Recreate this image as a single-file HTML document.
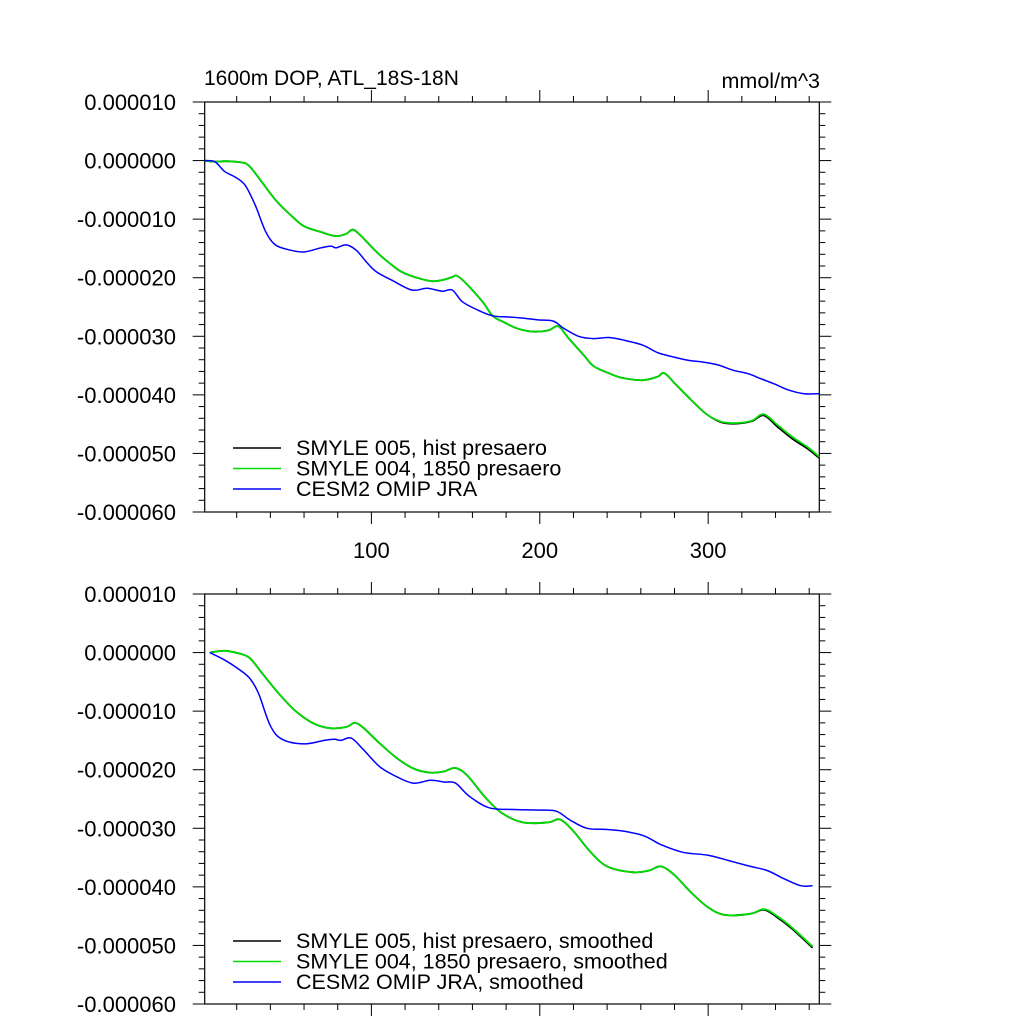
<!DOCTYPE html>
<html><head><meta charset="utf-8">
<style>
body{margin:0;background:#fff;}
svg text{font-family:"Liberation Sans",sans-serif;fill:#000;}
</style></head>
<body>
<svg id="chart" width="1024" height="1024" viewBox="0 0 1024 1024" xmlns="http://www.w3.org/2000/svg">
<rect width="1024" height="1024" fill="#fff"/>
<text x="204" y="85" font-size="21">1600m DOP, ATL_18S-18N</text>
<text x="820" y="88" font-size="21.5" text-anchor="end">mmol/m^3</text>
</svg>
<script>
// values in units of 1e-6 mmol/m^3
const topDays = [1,7,13,22,27,34,43,52,60,70,79,85,89,94,103,112,118,127,136,142,148,151,157,166,172,178,187,196,205,211,217,226,232,241,249,261,270,274,281,290,299,308,317,326,333,341,350,359,366];
const topGreen = [0,-0.2,-0.1,-0.3,-0.8,-3.3,-6.7,-9.3,-11.2,-12.2,-12.9,-12.5,-11.8,-12.9,-15.6,-17.8,-19,-20,-20.6,-20.4,-19.9,-19.7,-21.2,-24.1,-26.5,-27.5,-28.7,-29.2,-29,-28.3,-30.3,-33.2,-35.1,-36.3,-37.1,-37.5,-36.9,-36.3,-38.3,-40.9,-43.3,-44.6,-44.8,-44.4,-43.3,-45.1,-47.2,-48.9,-50.6];
const topBlack = [0,-0.2,-0.1,-0.3,-0.8,-3.3,-6.7,-9.3,-11.2,-12.2,-12.9,-12.5,-11.8,-12.9,-15.6,-17.8,-19,-20,-20.6,-20.4,-19.9,-19.7,-21.2,-24.1,-26.5,-27.5,-28.7,-29.2,-29,-28.3,-30.3,-33.2,-35.1,-36.3,-37.1,-37.5,-36.9,-36.3,-38.3,-40.9,-43.3,-44.7,-44.9,-44.5,-43.5,-45.4,-47.5,-49.2,-50.8];
const topBlueDays = [1,7,13,19,25,31,37,43,52,60,70,76,79,85,91,97,103,112,124,133,142,148,154,163,172,181,190,199,208,214,223,232,241,249,261,270,279,288,297,306,315,324,330,339,348,357,366];
const topBlue = [0,-0.2,-1.9,-2.8,-4.2,-7.6,-12,-14.4,-15.3,-15.6,-14.9,-14.6,-14.9,-14.4,-15.3,-17.3,-19,-20.4,-22.1,-21.8,-22.3,-22.1,-24.1,-25.5,-26.5,-26.7,-26.9,-27.2,-27.4,-28.6,-30,-30.4,-30.2,-30.6,-31.5,-32.8,-33.5,-34.1,-34.4,-34.9,-35.8,-36.4,-37.1,-38.1,-39.2,-39.8,-39.8];
const botDays = [4,13,22,28,35,45,55,65,75,85,90,95,105,115,125,135,143,150,157,167,177,190,205,212,220,230,240,255,265,272,280,290,300,310,325,333,340,350,362];
const botGreen = [0,0.3,-0.2,-1,-3.5,-7,-10,-12,-12.9,-12.7,-12,-12.8,-15.5,-18,-19.8,-20.5,-20.3,-19.7,-21,-24.5,-27.3,-29,-29,-28.5,-30.5,-34,-36.5,-37.5,-37.2,-36.5,-38,-41,-43.5,-44.8,-44.6,-43.8,-44.8,-47,-50.2];
const botBlack = [0,0.3,-0.2,-1,-3.5,-7,-10,-12,-12.9,-12.7,-12,-12.8,-15.5,-18,-19.8,-20.5,-20.3,-19.7,-21,-24.5,-27.3,-29,-29,-28.5,-30.5,-34,-36.5,-37.5,-37.2,-36.5,-38,-41,-43.5,-44.8,-44.6,-43.9,-45,-47.2,-50.4];
const botBlueDays = [4,13,22,28,33,40,47,60,72,78,82,88,95,105,115,125,135,143,150,158,170,185,200,210,218,228,240,250,262,272,285,300,312,325,335,345,355,362];
const botBlue = [0,-1.3,-3,-4.5,-7,-12.5,-14.8,-15.6,-15,-14.8,-15,-14.6,-16.5,-19.5,-21.2,-22.3,-21.8,-22.1,-22.3,-24.5,-26.5,-26.8,-26.9,-27.1,-28.6,-30,-30.2,-30.5,-31.3,-32.8,-34.1,-34.6,-35.5,-36.5,-37.2,-38.6,-39.8,-39.8];
const yTicks = [10,0,-10,-20,-30,-40,-50,-60];
const yTickLabels = ["0.000010","0.000000","-0.000010","-0.000020","-0.000030","-0.000040","-0.000050","-0.000060"];
const xTicks = [100,200,300];
const xTickLabels = ["100","200","300"];
const legendTop = ["SMYLE 005, hist presaero","SMYLE 004, 1850 presaero","CESM2 OMIP JRA"];
const legendBot = ["SMYLE 005, hist presaero, smoothed","SMYLE 004, 1850 presaero, smoothed","CESM2 OMIP JRA, smoothed"];

const svg = document.getElementById('chart');
const NS = 'http://www.w3.org/2000/svg';
function mk(tag, attrs){const e=document.createElementNS(NS,tag);for(const k in attrs)e.setAttribute(k,attrs[k]);svg.appendChild(e);return e;}

function smoothPath(P){
  let d='M'+P[0][0].toFixed(1)+','+P[0][1].toFixed(1);
  for(let i=0;i<P.length-1;i++){
    const p0=P[Math.max(0,i-1)],p1=P[i],p2=P[i+1],p3=P[Math.min(P.length-1,i+2)];
    const c1=[p1[0]+(p2[0]-p0[0])/6,p1[1]+(p2[1]-p0[1])/6];
    const c2=[p2[0]-(p3[0]-p1[0])/6,p2[1]-(p3[1]-p1[1])/6];
    d+=' C'+c1[0].toFixed(1)+','+c1[1].toFixed(1)+' '+c2[0].toFixed(1)+','+c2[1].toFixed(1)+' '+p2[0].toFixed(1)+','+p2[1].toFixed(1);
  }
  return d;
}

function panel(p, top, bottom, showX, series, legend, legY, pfx, smooth){
  const L=204.7,R=819.3;
  const xS=d=>L+(d-1)*(R-L)/365;
  const yS=v=>top+(10-v)*(bottom-top)/70;
  const frame=mk('rect',{x:L,y:top,width:R-L,height:bottom-top,fill:'none',stroke:'#000','stroke-width':1.2});
  
  
  for(let v=10;v>=-60;v-=2){
    const major=(v%10===0);const len=major?12:6;const y=yS(v);
    const t1=mk('line',{x1:L-len,x2:L,y1:y,y2:y,stroke:'#000','stroke-width':1});
    
    
    const t2=mk('line',{x1:R,x2:R+len,y1:y,y2:y,stroke:'#000','stroke-width':1});
    
    
  }
  yTicks.forEach((v,i)=>{
    const t=mk('text',{x:176,y:yS(v)+8,'font-size':22,'text-anchor':'end'});
    t.textContent=yTickLabels[i];
    
    
  });
  for(let d=20;d<=360;d+=20){
    const major=(d%100===0);const len=major?12:6;const x=xS(d);
    const a=mk('line',{x1:x,x2:x,y1:top-len,y2:top,stroke:'#000','stroke-width':1});
    
    
    const b=mk('line',{x1:x,x2:x,y1:bottom,y2:bottom+len,stroke:'#000','stroke-width':1});
    
    
  }
  if(showX){
    xTicks.forEach((d,i)=>{
      const t=mk('text',{x:xS(d),y:bottom+46,'font-size':22,'text-anchor':'middle'});
      t.textContent=xTickLabels[i];
      
      
    });
  }
  series.forEach(s=>{
    const P=s.days.map((d,i)=>[xS(d),yS(s.vals[i])]);
    const el=mk('path',{d:smoothPath(P),fill:'none',stroke:s.color,'stroke-width':s.w,'stroke-linejoin':'round'});
    
    
  });
  const cols=['#000','#00dd00','#0000ff'];
  legend.forEach((lab,i)=>{
    const y=legY+i*20.5;
    const ln=mk('line',{x1:233,x2:281,y1:y,y2:y,stroke:cols[i],'stroke-width':1.5});
    
    
    const t=mk('text',{x:296,y:y+7,'font-size':21.5});
    t.textContent=lab;
    
    
  });
}
panel(1,102,512,true,[
  {name:'black',days:topDays,vals:topBlack,color:'#000',w:1.8},
  {name:'green',days:topDays,vals:topGreen,color:'#00dd00',w:1.8},
  {name:'blue',days:topBlueDays,vals:topBlue,color:'#0000ff',w:1.5}
],legendTop,448,'top');
panel(2,594,1004,false,[
  {name:'black',days:botDays,vals:botBlack,color:'#000',w:1.8},
  {name:'green',days:botDays,vals:botGreen,color:'#00dd00',w:1.8},
  {name:'blue',days:botBlueDays,vals:botBlue,color:'#0000ff',w:1.5}
],legendBot,941,'bottom');
</script>
</body></html>
